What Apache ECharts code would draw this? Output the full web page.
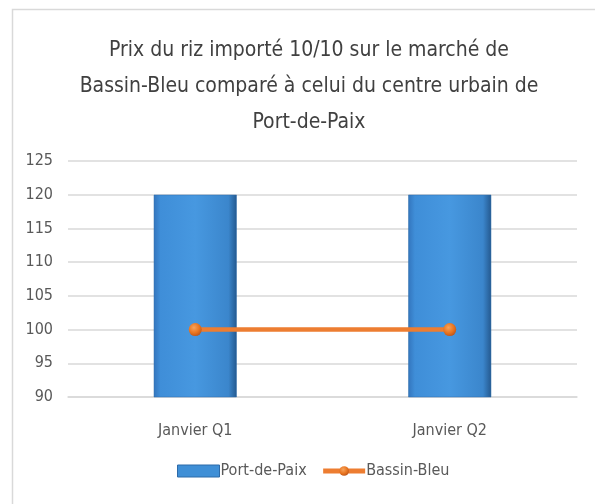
<!DOCTYPE html>
<html>
<head>
<meta charset="utf-8">
<script src="https://cdn.jsdelivr.net/npm/echarts@6/dist/echarts.min.js"></script>
<style>
  html, body { margin: 0; padding: 0; background: #fff; }
  #chart { width: 595px; height: 504px; }
</style>
</head>
<body>
<div id="chart"></div>
<script>
// prix comparés, deux quinzaines de janvier
const categories = ['Janvier Q1', 'Janvier Q2']
const portDePaix = [120, 120]
const bassinBleu = [100, 100]
const yTicks = [90, 95, 100, 105, 110, 115, 120, 125]

const font = '"Liberation Sans Narrow", "DejaVu Sans Condensed", "Open Sans", sans-serif'
const tx = '#595959'

const chart = echarts.init(document.getElementById('chart'), null, { renderer: 'canvas' })

chart.setOption({
  animation: false,
  graphic: [{
    type: 'rect', silent: true, z: -1,
    shape: { x: 12.5, y: 9.5, width: 620, height: 520 },
    style: { fill: 'none', stroke: '#d9d9d9', lineWidth: 1.5 },
  }],
  title: {
    text: 'Prix du riz importé 10/10 sur le marché de\nBassin-Bleu comparé à celui du centre urbain de\nPort-de-Paix',
    left: 304, top: 28, textAlign: 'center',
    textStyle: { fontFamily: font, fontSize: 21, fontWeight: 'normal', color: '#404040', lineHeight: 36 },
  },
  grid: { left: 68, right: 18, top: 161, bottom: 107 },
  xAxis: {
    type: 'category', data: categories,
    axisLine: { lineStyle: { color: '#d9d9d9', width: 1.5 } },
    axisTick: { show: false },
    axisLabel: { color: tx, fontFamily: font, fontSize: 16, margin: 26 },
  },
  yAxis: {
    type: 'value', min: yTicks[0], max: yTicks[yTicks.length - 1], interval: 5,
    axisLine: { show: false }, axisTick: { show: false },
    splitLine: { lineStyle: { color: '#d9d9d9', width: 1.5 } },
    axisLabel: { color: tx, fontFamily: font, fontSize: 16, margin: 15 },
  },
  legend: {
    bottom: 20, left: 172, itemGap: 14,
    textStyle: { color: tx, fontFamily: font, fontSize: 16, padding: [0, 0, 0, -4] },
    data: [
      { name: 'Port-de-Paix', icon: 'rect', itemStyle: { color: '#3f8fd6', borderColor: '#2d6aa8', borderWidth: 1 } },
      { name: 'Bassin-Bleu', lineStyle: { width: 5, color: '#ed7d31' } },
    ],
    itemWidth: 42, itemHeight: 12,
  },
  series: [
    {
      name: 'Port-de-Paix', type: 'bar', data: portDePaix, barWidth: '32.6%',
      itemStyle: {
        color: new echarts.graphic.LinearGradient(0, 0, 1, 0, [
          { offset: 0, color: '#3375bd' },
          { offset: 0.08, color: '#3f8ed8' },
          { offset: 0.5, color: '#4798e0' },
          { offset: 0.9, color: '#3b86cc' },
          { offset: 1, color: '#24598f' },
        ]),
        borderColor: '#2d6aa8', borderWidth: 0.5,
      },
    },
    {
      name: 'Bassin-Bleu', type: 'line', data: bassinBleu,
      symbol: 'circle', symbolSize: 13,
      lineStyle: { color: '#ed7d31', width: 4.5 },
      itemStyle: {
        color: new echarts.graphic.RadialGradient(0.4, 0.35, 0.7, [
          { offset: 0, color: '#f7a35c' },
          { offset: 0.6, color: '#e8741f' },
          { offset: 1, color: '#b9531a' },
        ]),
        borderWidth: 0,
      },
    },
  ],
})
</script>
</body>
</html>
